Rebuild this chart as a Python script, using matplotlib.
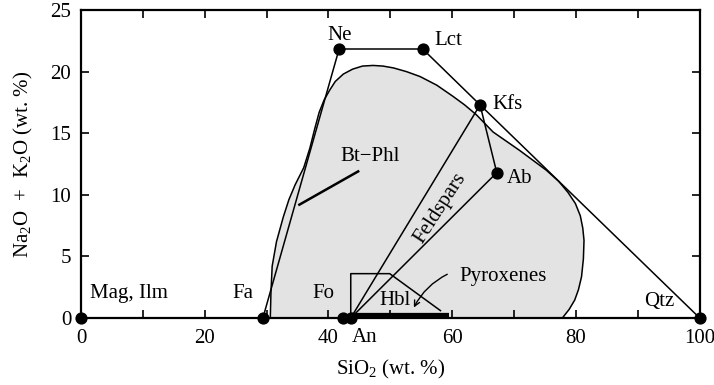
"""Alkali-silica diagram with mineral compositions and the field of volcanic rocks."""

import matplotlib
matplotlib.use("Agg")
import matplotlib.pyplot as plt
from matplotlib.patches import Polygon

plt.rcParams["font.family"] = ["Liberation Serif", "DejaVu Serif"]
plt.rcParams["mathtext.fontset"] = "custom"
plt.rcParams["mathtext.rm"] = "Liberation Serif"
plt.rcParams["mathtext.it"] = "Liberation Serif:italic"

# mineral end-members: SiO2 (wt. %), Na2O + K2O (wt. %)
MINERALS = ["Mag", "Fa", "Fo", "An", "Ne", "Lct", "Kfs", "Ab", "Qtz"]
SIO2 = [0.0, 29.4, 42.4, 43.6, 41.7, 55.3, 64.5, 67.2, 100.0]
ALKALI = [0.0, 0.0, 0.0, 0.0, 21.8, 21.8, 17.3, 11.8, 0.0]

# tie lines between minerals
TIE_LINES = [("Fa", "Ne"), ("Ne", "Lct"), ("Lct", "Kfs"), ("Kfs", "Qtz"),
             ("Kfs", "Ab"), ("Kfs", "An"), ("Ab", "An")]

# outline of the grey field of rock compositions
FIELD_SIO2 = [30.6, 30.7, 30.9, 31.6, 32.7, 33.6, 34.6, 36.0, 37.0, 37.8,
              38.5, 39.3, 40.2, 41.1, 42.4, 43.9, 45.5, 47.2, 48.8, 50.5,
              52.6, 54.8, 57.5, 60.1, 62.0, 63.9, 66.6, 70.9, 75.2, 77.2,
              78.7, 79.9, 80.7, 81.1, 81.3, 81.2, 80.9, 80.4, 79.8, 78.9,
              77.8]
FIELD_ALKALI = [0.0, 2.0, 4.2, 6.2, 8.2, 9.6, 10.8, 12.2, 13.8, 15.4,
                16.7, 17.7, 18.5, 19.2, 19.8, 20.2, 20.45, 20.5, 20.45, 20.3,
                20.0, 19.6, 18.9, 18.0, 17.3, 16.5, 15.1, 13.6, 12.0, 11.1,
                10.2, 9.3, 8.3, 7.3, 6.3, 4.8, 3.35, 2.3, 1.46, 0.7,
                0.0]

# hornblende field and pyroxene bar
HBL_SIO2 = [43.6, 43.6, 49.9, 58.1]
HBL_ALKALI = [0.0, 3.6, 3.6, 0.6]
PYX_SIO2 = [43.6, 59.4]
PYX_ALKALI = [0.2, 0.2]

# biotite-phlogopite line
BT_SIO2 = [35.3, 44.8]
BT_ALKALI = [9.2, 11.9]

X_TICKS = [0, 20, 40, 60, 80, 100]
X_MINOR = [10, 30, 50, 70, 90]
Y_TICKS = [0, 5, 10, 15, 20, 25]


def main():
    fig = plt.figure(figsize=(7.14, 3.85), dpi=100)
    ax = fig.add_axes([0.1134, 0.174, 0.8666, 0.800])

    ax.add_patch(Polygon(list(zip(FIELD_SIO2, FIELD_ALKALI)), closed=True,
                         facecolor="#e3e3e3", edgecolor="black", lw=1.1,
                         joinstyle="round", zorder=1))

    pos = {m: (x, y) for m, x, y in zip(MINERALS, SIO2, ALKALI)}
    for a, b in TIE_LINES:
        ax.plot([pos[a][0], pos[b][0]], [pos[a][1], pos[b][1]],
                color="black", lw=1.1, zorder=3)

    ax.plot(HBL_SIO2, HBL_ALKALI, color="black", lw=1.1, zorder=3)
    ax.plot(PYX_SIO2, PYX_ALKALI, color="black", lw=4.5,
            solid_capstyle="butt", zorder=4)
    ax.plot(BT_SIO2, BT_ALKALI, color="black", lw=1.8, zorder=3)

    ax.plot(SIO2, ALKALI, "o", color="black", ms=7.8, zorder=6, clip_on=False)

    fs = 15
    labels = [
        ("Mag, Ilm", 1.4, 2.0, "left"),
        ("Fa", 26.2, 2.0, "center"),
        ("Fo", 39.1, 2.0, "center"),
        ("Hbl", 50.7, 1.4, "center"),
        ("Pyroxenes", 68.2, 3.4, "center"),
        ("Qtz", 93.5, 1.3, "center"),
        ("Ne", 41.8, 22.9, "center"),
        ("Lct", 59.4, 22.5, "center"),
        ("Kfs", 69.0, 17.35, "center"),
        ("Ab", 70.9, 11.35, "center"),
        ("Bt\u2212Phl", 46.7, 13.1, "center"),
    ]
    for text, x, y, ha in labels:
        ax.text(x, y, text, fontsize=fs, ha=ha, va="center", zorder=7)
    ax.text(45.9, -1.6, "An", fontsize=fs, ha="center", va="center",
            clip_on=False)
    ax.text(58.0, 8.9, "Feldspars", fontsize=fs, ha="center", va="center",
            rotation=57, rotation_mode="anchor")

    ax.annotate("", xy=(53.6, 0.65), xytext=(59.6, 3.65),
                arrowprops=dict(arrowstyle="->", color="black", lw=1.0,
                                connectionstyle="arc3,rad=0.18"))

    ax.set_xlim(0, 100)
    ax.set_ylim(0, 25)
    ax.set_xticks(X_TICKS)
    ax.set_xticks(X_MINOR, minor=True)
    ax.set_yticks(Y_TICKS)
    ax.tick_params(which="both", direction="in", top=True, right=True,
                   length=5.5, width=1.2, labelsize=fs, pad=7)
    ax.tick_params(axis="x", pad=8)
    for spine in ax.spines.values():
        spine.set_linewidth(1.6)

    ax.set_xlabel("SiO$_2$ (wt. %)", fontsize=fs, labelpad=7)
    ax.set_ylabel("Na$_2$O  +  K$_2$O (wt. %)", fontsize=fs, labelpad=11)

    fig.savefig("out.png", dpi=100)
    plt.close(fig)


if __name__ == "__main__":
    main()
